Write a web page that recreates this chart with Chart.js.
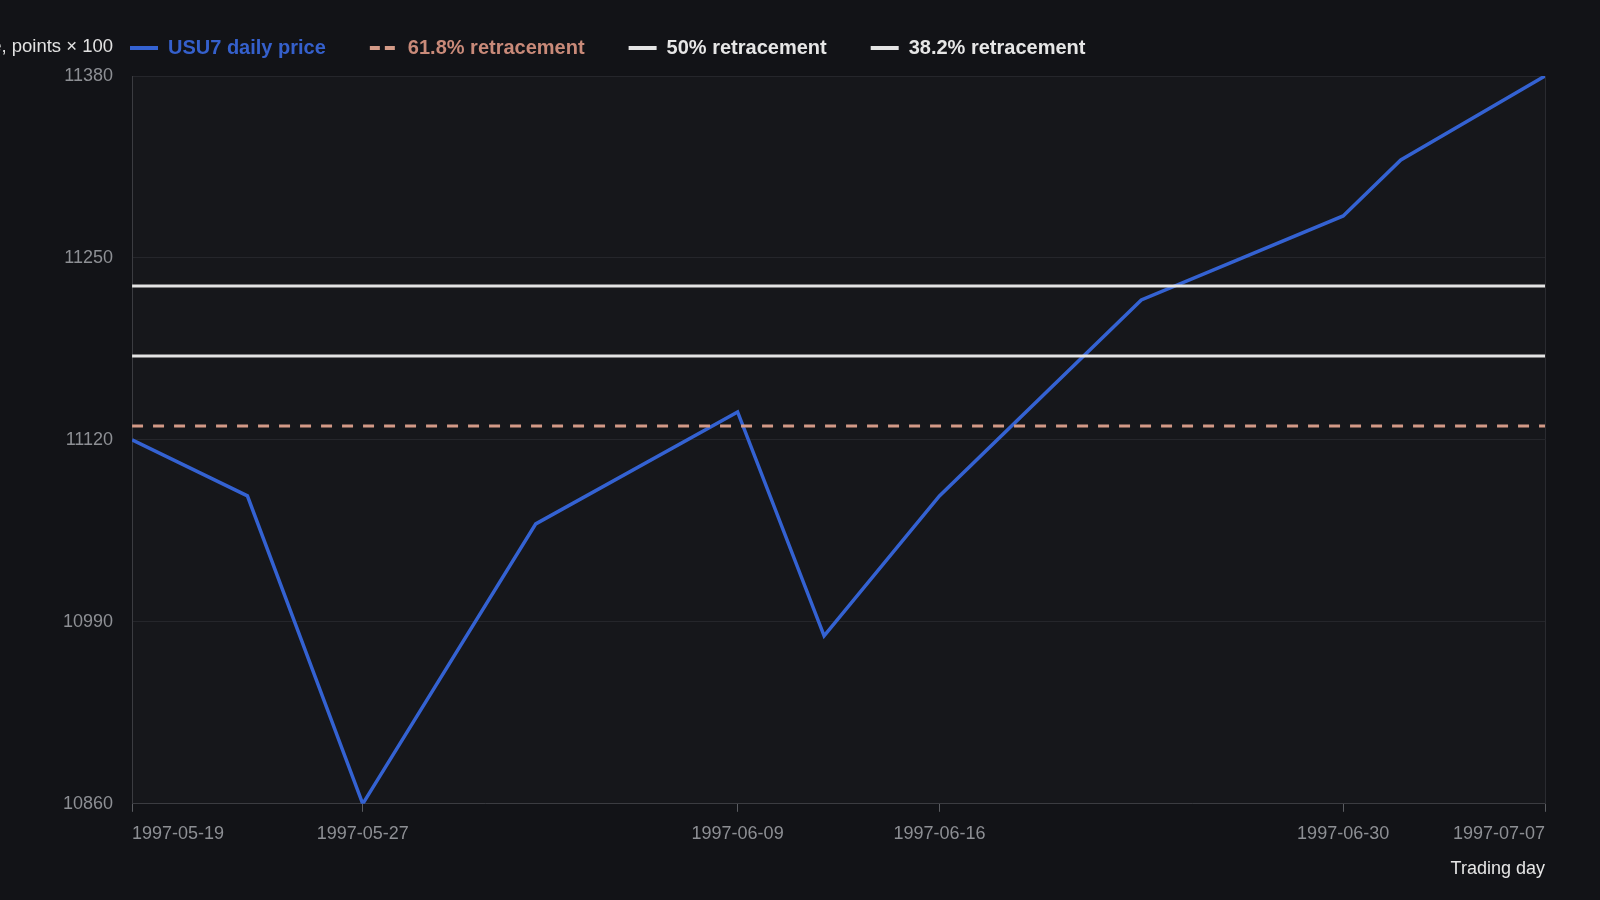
<!DOCTYPE html>
<html>
<head>
<meta charset="utf-8">
<script src="https://cdn.jsdelivr.net/npm/chart.js@4/dist/chart.umd.min.js"></script>
<style>
  html, body { margin: 0; padding: 0; background: #121317; }
  #wrap { width: 1600px; height: 900px; }
</style>
</head>
<body>
<div id="wrap"><canvas id="c" width="1600" height="900"></canvas></div>
<script>
// ---- data ----
const dates = ['1997-05-19','1997-05-23','1997-05-27','1997-06-02','1997-06-09','1997-06-12','1997-06-16','1997-06-23','1997-06-30','1997-07-02','1997-07-07'];
const prices = [11120, 11080, 10860, 11060, 11140, 10980, 11080, 11220, 11280, 11320, 11380];
const retrace618 = 11130;
const retrace50 = 11180;
const retrace382 = 11230;
const tickDates = ['1997-05-19','1997-05-27','1997-06-09','1997-06-16','1997-06-30','1997-07-07'];
const yTicks = [10860, 10990, 11120, 11250, 11380];
const seriesNames = ['USU7 daily price', '61.8% retracement', '50% retracement', '38.2% retracement'];
const yTitle = 'Price, points × 100';
const xTitle = 'Trading day';

// ---- helpers ----
const DAY = 86400000;
const parseD = s => Date.UTC(+s.slice(0,4), +s.slice(5,7) - 1, +s.slice(8,10));
const base = parseD(dates[0]);
const dayOf = s => Math.round((parseD(s) - base) / DAY);
const fmt = v => new Date(base + v * DAY).toISOString().slice(0, 10);
const firstX = dayOf(dates[0]);
const lastX = dayOf(dates[dates.length - 1]);
const flat = v => [{x: firstX, y: v}, {x: lastX, y: v}];

const FONT = "'Liberation Sans', Arial, sans-serif";
const colors = {
  price: '#3462d2', r618: '#d39a87', r50: '#e4e4e4', r382: '#e4e4e4'
};
const legendText = ['#3560cc', '#c98a79', '#e6e6e6', '#e6e6e6'];

const framePlugin = {
  id: 'frame',
  beforeDraw(chart) {
    const {ctx, chartArea: a} = chart;
    ctx.save();
    ctx.fillStyle = '#16171b';
    ctx.fillRect(a.left, a.top, a.right - a.left, a.bottom - a.top);
    ctx.restore();
  },
  afterDraw(chart) {
    const {ctx, chartArea: a} = chart;
    ctx.save();
    ctx.strokeStyle = '#2a2b30';
    ctx.lineWidth = 1;
    ctx.beginPath();
    ctx.moveTo(a.right + 0.5, a.top);
    ctx.lineTo(a.right + 0.5, a.bottom);
    ctx.stroke();
    // y-axis title at top-left, right aligned with tick labels
    ctx.fillStyle = '#e2e2e2';
    ctx.font = '18.5px ' + FONT;
    ctx.textAlign = 'right';
    ctx.textBaseline = 'middle';
    ctx.fillText(yTitle, a.left - 19, 47);
    ctx.restore();
  },
  afterLayout(chart) {
    const lg = chart.legend;
    if (lg) {
      const pad = lg.options.labels.padding;
      const w = lg.width;
      lg.left = 130 - pad;
      lg.right = lg.left + w;
      const h = lg.height;
      lg.top = 48 - 10 - pad;
      lg.bottom = lg.top + h;
    }
  }
};

new Chart(document.getElementById('c'), {
  type: 'line',
  data: {
    datasets: [
      { label: seriesNames[0], data: dates.map((d, i) => ({x: dayOf(d), y: prices[i]})),
        borderColor: colors.price, backgroundColor: colors.price, borderWidth: 3.5,
        pointRadius: 0, tension: 0, order: 1 },
      { label: seriesNames[1], data: flat(retrace618), borderColor: colors.r618, backgroundColor: colors.r618,
        borderWidth: 3, borderDash: [11, 10], pointRadius: 0, order: 0 },
      { label: seriesNames[2], data: flat(retrace50), borderColor: colors.r50, backgroundColor: colors.r50,
        borderWidth: 3, pointRadius: 0, order: 0 },
      { label: seriesNames[3], data: flat(retrace382), borderColor: colors.r382, backgroundColor: colors.r382,
        borderWidth: 3, pointRadius: 0, order: 0 }
    ]
  },
  options: {
    responsive: false,
    animation: false,
    layout: { padding: { left: 44, right: 55, top: 2, bottom: 16 } },
    plugins: {
      tooltip: { enabled: false },
      legend: {
        display: true,
        position: 'top',
        align: 'start',
        labels: {
          usePointStyle: true,
          pointStyle: 'line',
          pointStyleWidth: 28,
          padding: 44,
          font: { family: FONT, size: 20, weight: 'bold' },
          generateLabels(chart) {
            return chart.data.datasets.map((ds, i) => ({
              text: ds.label,
              fillStyle: ds.borderColor,
              strokeStyle: ds.borderColor,
              fontColor: legendText[i],
              lineWidth: 4,
              lineDash: ds.borderDash ? [10, 5] : [],
              lineCap: 'butt',
              pointStyle: 'line',
              hidden: false,
              datasetIndex: i
            }));
          }
        }
      }
    },
    scales: {
      x: {
        type: 'linear',
        min: firstX,
        max: lastX,
        afterBuildTicks(scale) { scale.ticks = tickDates.map(d => ({value: dayOf(d)})); },
        ticks: {
          align: 'inner',
          maxRotation: 0,
          autoSkip: false,
          padding: 11,
          color: '#8d8f94',
          font: { family: FONT, size: 18 },
          callback: v => fmt(v)
        },
        grid: { drawOnChartArea: false, drawTicks: true, tickLength: 8, color: '#5a5c61' },
        border: { display: true, color: '#3b3c41', width: 1 },
        title: { display: true, text: xTitle, align: 'end', color: '#e6e6e6',
                 font: { family: FONT, size: 18 }, padding: { top: 3, bottom: 4 } }
      },
      y: {
        type: 'linear',
        min: yTicks[0],
        max: yTicks[yTicks.length - 1],
        afterBuildTicks(scale) { scale.ticks = yTicks.map(v => ({value: v})); },
        ticks: {
          padding: 19,
          color: '#8d8f94',
          font: { family: FONT, size: 18 },
          callback: v => String(v)
        },
        grid: { color: '#25262b', drawTicks: false, lineWidth: 1 },
        border: { display: true, color: '#3b3c41', width: 1 }
      }
    }
  },
  plugins: [framePlugin]
});
</script>
</body>
</html>
